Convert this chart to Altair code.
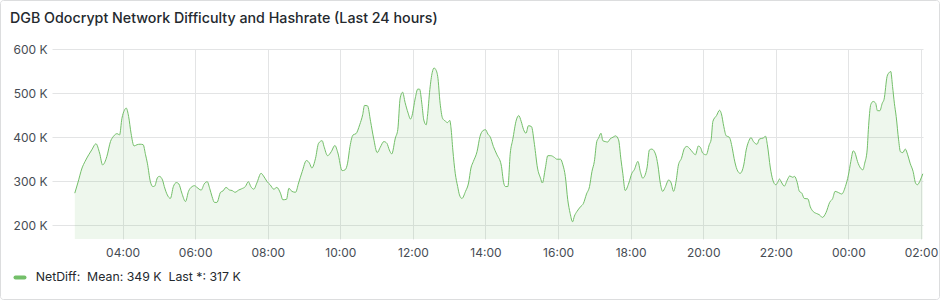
import altair as alt
import pandas as pd

# ---------------- data ----------------
TITLE = "DGB Odocrypt Network Difficulty and Hashrate (Last 24 hours)"
SERIES = "NetDiff"
LEGEND_MEAN = "349 K"
LEGEND_LAST = "317 K"
START_DATE = "2024-05-01"

clock = [
    "02:41", "02:46", "02:53", "02:58", "03:04", "03:09", "03:16", "03:22", "03:27", "03:34",
    "03:40", "03:45", "03:51", "03:55", "03:59", "04:03", "04:06", "04:10", "04:14", "04:19",
    "04:24", "04:29", "04:34", "04:38", "04:41", "04:46", "04:50", "04:53", "04:58", "05:01",
    "05:06", "05:09", "05:14", "05:19", "05:24", "05:29", "05:33", "05:38", "05:44", "05:49",
    "05:55", "05:59",
    "06:03", "06:10", "06:15", "06:20", "06:24", "06:28", "06:32", "06:36", "06:42", "06:46",
    "06:51", "06:57", "07:01", "07:06", "07:12", "07:17", "07:23", "07:28", "07:32", "07:37",
    "07:42", "07:49", "07:53", "07:59", "08:04", "08:10", "08:15", "08:21", "08:25", "08:31",
    "08:35", "08:40", "08:46", "08:51", "08:57", "09:04", "09:09",
    "09:13", "09:19", "09:24", "09:30", "09:33", "09:39", "09:45", "09:51", "09:56", "10:03",
    "10:08", "10:12", "10:16", "10:21", "10:26", "10:32", "10:37", "10:40", "10:45", "10:50",
    "10:55", "11:01", "11:06", "11:12", "11:17", "11:21", "11:25", "11:31", "11:35", "11:39",
    "11:43", "11:47", "11:52", "11:56", "11:58", "12:04", "12:08", "12:11", "12:15", "12:18",
    "12:22", "12:24", "12:28", "12:32", "12:35",
    "12:37", "12:41", "12:45", "12:49", "12:54", "12:57", "13:01", "13:03", "13:06", "13:10",
    "13:14", "13:17", "13:21", "13:27", "13:32", "13:36", "13:40", "13:46", "13:51", "13:56",
    "14:00", "14:04", "14:08", "14:13", "14:19", "14:26", "14:30", "14:33", "14:37", "14:41",
    "14:45", "14:51", "14:55", "14:59", "15:03", "15:07", "15:11", "15:16", "15:21", "15:26",
    "15:31", "15:34", "15:39", "15:43", "15:48", "15:54",
    "15:58", "16:04", "16:08", "16:12", "16:16", "16:20", "16:24", "16:27", "16:31", "16:37",
    "16:42", "16:47", "16:52", "16:56", "17:00", "17:04", "17:07", "17:11", "17:14", "17:18",
    "17:22", "17:26", "17:31", "17:35", "17:40", "17:44", "17:47", "17:51", "17:57", "18:02",
    "18:06", "18:12", "18:16", "18:20", "18:27", "18:31", "18:35", "18:41", "18:45", "18:49",
    "18:53", "18:57", "19:03", "19:07", "19:11",
    "19:15", "19:19", "19:24", "19:29", "19:33", "19:37", "19:43", "19:47", "19:52", "19:56",
    "19:59", "20:05", "20:10", "20:13", "20:16", "20:22", "20:27", "20:30", "20:34", "20:38",
    "20:43", "20:48", "20:51", "20:56", "21:01", "21:07", "21:11", "21:15", "21:19", "21:23",
    "21:29", "21:33", "21:39", "21:43", "21:46", "21:51", "21:55", "22:00", "22:03", "22:06",
    "22:10", "22:14", "22:19", "22:23", "22:28",
    "22:31", "22:35", "22:39", "22:43", "22:47", "22:53", "22:57", "23:02", "23:07", "23:12",
    "23:17", "23:23", "23:29", "23:34", "23:38", "23:44", "23:49", "23:55", "00:00", "00:04",
    "00:08", "00:11", "00:15", "00:20", "00:24", "00:27", "00:31", "00:33", "00:37", "00:41",
    "00:45", "00:48", "00:52", "00:56", "00:59", "01:04", "01:07", "01:10", "01:13", "01:16",
    "01:19", "01:23", "01:26", "01:30", "01:34", "01:38", "01:42", "01:47", "01:51", "01:54",
    "01:59", "02:03",
]

net_diff_k = [
    273, 296, 330, 345, 360, 371, 385, 364, 337, 356,
    390, 402, 408, 405, 443, 461, 466, 447, 409, 380,
    383, 384, 383, 360, 341, 299, 288, 289, 309, 311,
    303, 288, 269, 261, 288, 297, 294, 273, 254, 277,
    288, 290,
    286, 280, 294, 299, 284, 265, 252, 252, 275, 278,
    286, 280, 279, 275, 280, 283, 288, 299, 288, 282,
    296, 318, 312, 299, 292, 282, 286, 273, 258, 259,
    284, 277, 275, 296, 322, 347, 341,
    330, 352, 386, 392, 379, 358, 367, 381, 364, 324,
    326, 341, 379, 405, 408, 428, 451, 472, 471, 436,
    398, 365, 377, 390, 386, 371, 362, 398, 417, 489,
    502, 479, 455, 441, 446, 489, 509, 509, 474, 439,
    428, 447, 508, 547, 557,
    555, 538, 477, 443, 436, 433, 438, 421, 371, 318,
    288, 269, 261, 277, 296, 330, 345, 367, 402, 415,
    417, 407, 400, 379, 360, 337, 297, 288, 288, 364,
    394, 439, 449, 436, 417, 409, 426, 424, 383, 330,
    307, 296, 330, 358, 358, 354,
    350, 350, 337, 311, 258, 227, 208, 221, 231, 242,
    250, 271, 288, 322, 345, 390, 398, 409, 392, 390,
    389, 396, 400, 403, 394, 349, 318, 279, 296, 318,
    326, 345, 322, 307, 330, 371, 373, 362, 337, 296,
    277, 286, 303, 296, 277,
    299, 337, 352, 375, 379, 375, 365, 360, 380, 375,
    364, 360, 383, 394, 436, 449, 461, 453, 424, 403,
    400, 375, 352, 326, 318, 337, 371, 390, 399, 390,
    384, 396, 398, 402, 383, 330, 303, 292, 297, 305,
    296, 289, 303, 312, 309,
    311, 299, 277, 273, 261, 260, 242, 231, 227, 224,
    218, 229, 252, 261, 277, 274, 271, 288, 314, 345,
    369, 364, 345, 330, 326, 341, 371, 417, 474, 481,
    477, 460, 460, 477, 486, 538, 546, 549, 515, 477,
    447, 394, 367, 365, 373, 360, 341, 322, 296, 292,
    303, 317,
]

x_tick_clock = ["04:00", "06:00", "08:00", "10:00", "12:00", "14:00", "16:00",
                "18:00", "20:00", "22:00", "00:00", "02:00"]
y_ticks_k = [200, 300, 400, 500, 600]
Y_MIN_K = 169
Y_MAX_K = 600

# ---------------- styles ----------------
GREEN = "#73BF69"
TEXT = "#24292E"
AXIS_TEXT = "#464C54"
GRID = "#E3E4E5"
FONT = "Inter"


def to_stamps(clock_list, start=START_DATE):
    day = pd.Timestamp(start)
    out, prev = [], -1
    for c in clock_list:
        h, m = map(int, c.split(":"))
        mins = h * 60 + m
        if mins < prev:
            day += pd.Timedelta(days=1)
        prev = mins
        out.append(day + pd.Timedelta(minutes=mins))
    return out


def dt(ts):
    return alt.DateTime(year=ts.year, month=ts.month, date=ts.day,
                        hours=ts.hour, minutes=ts.minute, seconds=ts.second)


stamps = to_stamps(clock)
df = pd.DataFrame({"time": stamps, "value": net_diff_k})

dom_end = stamps[-1] + pd.Timedelta(seconds=20)
dom_start = dom_end - pd.Timedelta(hours=24)
tick_stamps = to_stamps(x_tick_clock, start=str(stamps[0].date()))

x_enc = alt.X(
    "time:T",
    scale=alt.Scale(domain=[dt(dom_start), dt(dom_end)]),
    axis=alt.Axis(
        values=[dt(t) for t in tick_stamps], format="%H:%M", title=None,
        grid=True, gridColor=GRID, gridWidth=1, domain=False, ticks=False, tickSize=0,
        labelFont=FONT, labelFontSize=12, labelColor=AXIS_TEXT, labelPadding=8,
        labelFlush=False, labelOverlap=False,
    ),
)
y_enc = alt.Y(
    "value:Q",
    scale=alt.Scale(domain=[Y_MIN_K, Y_MAX_K], nice=False, zero=False),
    axis=alt.Axis(
        values=y_ticks_k, labelExpr="datum.value + ' K'", title=None,
        grid=True, gridColor=GRID, gridWidth=1, domain=False, ticks=False, tickSize=0,
        labelFont=FONT, labelFontSize=12, labelColor=AXIS_TEXT, labelPadding=5,
    ),
)

base = alt.Chart(df)
area = base.mark_area(color=GREEN, opacity=0.12, interpolate="monotone").encode(
    x=x_enc, y=y_enc, y2=alt.datum(Y_MIN_K)
)
line = base.mark_line(color=GREEN, strokeWidth=1, interpolate="monotone").encode(
    x=x_enc, y=y_enc
)

one = pd.DataFrame({
    "title": [TITLE],
    "legend": [f"{SERIES}:\u00a0\u00a0Mean: {LEGEND_MEAN}\u00a0\u00a0Last *: {LEGEND_LAST}"],
})
panel = alt.Chart(one).mark_rect(
    fill="white", fillOpacity=0, stroke="#DCDDDE", strokeWidth=1, cornerRadius=3
).encode(x=alt.value(-51.5), x2=alt.value(887.5), y=alt.value(-48.5), y2=alt.value(250.5))

title = alt.Chart(one).mark_text(
    align="left", baseline="alphabetic", font=FONT, fontSize=14.25, fontWeight=500, color=TEXT
).encode(text="title:N", x=alt.value(-42), y=alt.value(-26.5))

swatch = alt.Chart(one).mark_rule(
    color=GREEN, strokeWidth=4, strokeCap="round"
).encode(x=alt.value(-36.5), x2=alt.value(-27.5), y=alt.value(228.5))

legend = alt.Chart(one).mark_text(
    align="left", baseline="alphabetic", font=FONT, fontSize=12.3, color=TEXT
).encode(text="legend:N", x=alt.value(-16.3), y=alt.value(232))

chart = (
    alt.layer(panel, area, line, title, swatch, legend)
    .properties(
        width=871, height=190,
        autosize=alt.AutoSizeParams(type="none"),
        padding={"left": 52, "top": 49, "right": 17, "bottom": 61},
        background="white",
    )
    .configure_view(stroke=None)
)

chart.save("out.html", embed_options={"renderer": "svg", "actions": False})
